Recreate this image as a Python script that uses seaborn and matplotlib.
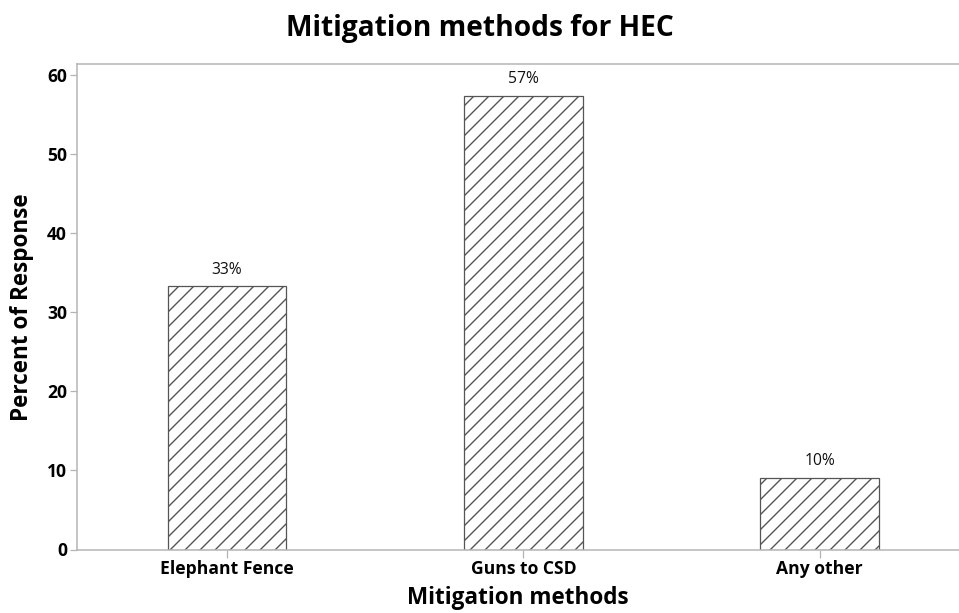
import pandas as pd
import matplotlib.pyplot as plt
import seaborn as sns

# values
methods = ["Elephant Fence", "Guns to CSD", "Any other"]
percent = [33.3, 57.4, 9.1]
bar_labels = ["33%", "57%", "10%"]

df = pd.DataFrame({"method": methods, "percent": percent})

sns.set_style("white")
plt.rcParams["font.family"] = ["Open Sans", "DejaVu Sans"]
plt.rcParams["hatch.linewidth"] = 1.1
plt.rcParams["hatch.color"] = "#555555"

fig = plt.figure(figsize=(959 / 90, 613 / 90), dpi=90)
ax = fig.add_axes([77 / 959, (613 - 549.5) / 613, 1 - 77 / 959, (549.5 - 64) / 613])

sns.barplot(data=df, x="method", y="percent", color="white", width=0.4,
            edgecolor="#555555", linewidth=1.0, ax=ax)
for p in ax.patches:
    p.set_hatch("//")
    p.set_facecolor("white")

for i, (v, lab) in enumerate(zip(percent, bar_labels)):
    ax.annotate(lab, (i, v), xytext=(0, 7), textcoords="offset points",
                ha="center", va="bottom", fontsize=12.5, color="#111111")

ax.set_xlim(-0.506, 2.47)
ax.set_ylim(0, 61.45)
ax.set_yticks([0, 10, 20, 30, 40, 50, 60])

for side in ["left", "top", "bottom"]:
    ax.spines[side].set_color("#b4b4b4")
    ax.spines[side].set_linewidth(1.2)
ax.spines["right"].set_visible(False)

ax.tick_params(axis="both", which="major", length=6, width=1.0, pad=2,
               color="#b4b4b4", labelsize=14, labelcolor="black",
               bottom=True, left=True)
for t in ax.get_xticklabels() + ax.get_yticklabels():
    t.set_fontweight("bold")

ax.set_xlabel("Mitigation methods", fontsize=18, fontweight="bold",
              color="black", labelpad=7)
ax.set_ylabel("Percent of Response", fontsize=18, fontweight="bold",
              color="black", labelpad=10)
fig.suptitle("Mitigation methods for HEC", fontsize=22.5, fontweight="bold",
             color="black", y=0.977)

fig.savefig("out.png", dpi=90)
